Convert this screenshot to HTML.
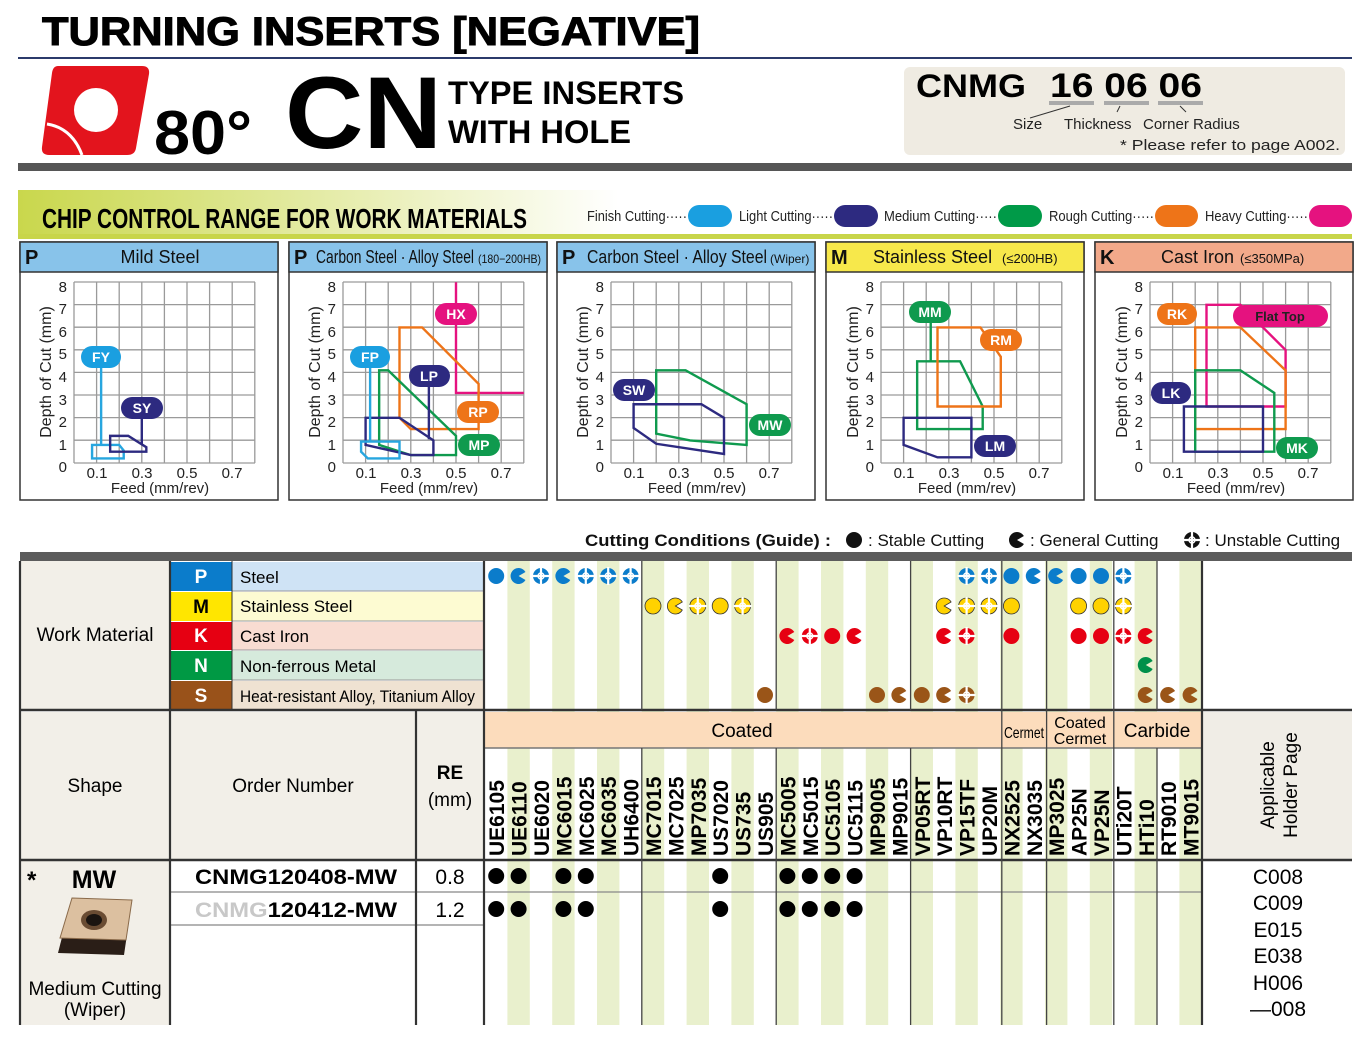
<!DOCTYPE html>
<html><head><meta charset="utf-8"><style>html,body{margin:0;padding:0;background:#fff}svg{display:block}text{font-family:"Liberation Sans",sans-serif}</style></head><body>
<svg width="1366" height="1040" viewBox="0 0 1366 1040" xmlns="http://www.w3.org/2000/svg">
<defs>
<linearGradient id="lg" x1="0" x2="1"><stop offset="0" stop-color="#c9d74c"/><stop offset="0.45" stop-color="#ffffff"/></linearGradient>
<g id="F"><circle r="8"/></g>
<g id="H"><path d="M0,0 L6.9,-4 A8,8 0 1 0 6.9,4 Z"/></g>
<g id="U"><circle r="8"/><path d="M-9,0H9M0,-9V9" stroke="#fff" stroke-width="2.2"/><circle r="3" fill="none" stroke="#fff" stroke-width="1.4"/></g>
<g id="grid" stroke="#9a9a9a" stroke-width="1.3">
<path d="M74,282V463M96.6,282V463M119.2,282V463M141.8,282V463M164.4,282V463M187,282V463M209.6,282V463M232.2,282V463M254.8,282V463"/>
<path d="M74,282H255M74,304.6H255M74,327.2H255M74,349.8H255M74,372.4H255M74,395H255M74,417.6H255M74,440.2H255M74,463H255"/>
</g>
<g id="axes" font-size="15" fill="#222">
<use href="#grid"/>
<g text-anchor="end"><text x="67" y="472">0</text><text x="67" y="450">1</text><text x="67" y="427">2</text><text x="67" y="405">3</text><text x="67" y="382">4</text><text x="67" y="359">5</text><text x="67" y="337">6</text><text x="67" y="314">7</text><text x="67" y="292">8</text></g>
<g text-anchor="middle"><text x="97" y="478">0.1</text><text x="142" y="478">0.3</text><text x="187" y="478">0.5</text><text x="232" y="478">0.7</text><text x="160" y="493">Feed (mm/rev)</text></g>
<text transform="translate(51,372) rotate(-90)" text-anchor="middle" font-size="16">Depth of Cut (mm)</text>
</g>
</defs>
<rect width="1366" height="1040" fill="#fff"/>

<text x="42" y="45" font-size="40" font-weight="bold" textLength="658" lengthAdjust="spacingAndGlyphs" stroke="#000" stroke-width="1">TURNING INSERTS [NEGATIVE]</text>
<rect x="18" y="57" width="1334" height="2" fill="#2b3a6b"/>
<path d="M58,66 H142 Q150,66 149,74 L136,148 Q135,155 127,155 H49 Q41,155 42,147 L52,73 Q53,66 58,66 Z" fill="#e3141d"/>
<circle cx="96" cy="110" r="22" fill="#fff"/>
<path d="M47,124 Q72,128 82,155" fill="none" stroke="#fff" stroke-width="3"/>
<text x="154" y="154" font-size="62" font-weight="bold" textLength="98" lengthAdjust="spacingAndGlyphs">80°</text>
<text x="285" y="148" font-size="102" font-weight="bold" textLength="157" lengthAdjust="spacingAndGlyphs">CN</text>
<text x="448" y="104" font-size="32" font-weight="bold" textLength="236" lengthAdjust="spacingAndGlyphs">TYPE INSERTS</text>
<text x="448" y="143" font-size="32" font-weight="bold" textLength="183" lengthAdjust="spacingAndGlyphs">WITH HOLE</text>
<rect x="18" y="163" width="1334" height="8" fill="#565656"/>
<rect x="904" y="67" width="441" height="88" rx="6" fill="#efebe2"/>
<text x="916" y="97" font-size="32" font-weight="bold" textLength="110" lengthAdjust="spacingAndGlyphs">CNMG</text>
<text x="1050" y="97" font-size="34" font-weight="bold" textLength="152" lengthAdjust="spacingAndGlyphs">16 06 06</text>
<rect x="1049" y="101" width="45" height="4" fill="#aaa"/><rect x="1104" y="101" width="45" height="4" fill="#aaa"/><rect x="1158" y="101" width="45" height="4" fill="#aaa"/>
<path d="M1070,106 L1030,118 M1120,106 L1117,112 M1180,106 L1186,112" stroke="#333" stroke-width="1"/>
<g font-size="15" fill="#222"><text x="1013" y="129">Size</text><text x="1064" y="129">Thickness</text><text x="1143" y="129">Corner Radius</text><text x="1120" y="150" textLength="220" lengthAdjust="spacingAndGlyphs">* Please refer to page A002.</text></g>

<rect x="18" y="190" width="1334" height="46" fill="url(#lg)"/>
<rect x="18" y="234" width="1334" height="5" fill="#c8d54a"/>
<text x="42" y="228" font-size="28" font-weight="bold" textLength="485" lengthAdjust="spacingAndGlyphs">CHIP CONTROL RANGE FOR WORK MATERIALS</text>
<g font-size="15" fill="#222">
<text x="587" y="221" textLength="100" lengthAdjust="spacingAndGlyphs">Finish Cutting·····</text><rect x="688" y="205" width="44" height="22" rx="11" fill="#1a9fe0"/>
<text x="739" y="221" textLength="94" lengthAdjust="spacingAndGlyphs">Light Cutting·····</text><rect x="834" y="205" width="44" height="22" rx="11" fill="#2d2a80"/>
<text x="884" y="221" textLength="113" lengthAdjust="spacingAndGlyphs">Medium Cutting·····</text><rect x="998" y="205" width="44" height="22" rx="11" fill="#009a48"/>
<text x="1049" y="221" textLength="105" lengthAdjust="spacingAndGlyphs">Rough Cutting·····</text><rect x="1155" y="205" width="43" height="22" rx="11" fill="#ee7418"/>
<text x="1205" y="221" textLength="103" lengthAdjust="spacingAndGlyphs">Heavy Cutting·····</text><rect x="1309" y="205" width="43" height="22" rx="11" fill="#e5127f"/>
</g>

<g stroke="#333" stroke-width="1.5" fill="#fff">
<rect x="20" y="242" width="258" height="258"/><rect x="289" y="242" width="258" height="258"/><rect x="557" y="242" width="258" height="258"/><rect x="826" y="242" width="258" height="258"/><rect x="1095" y="242" width="258" height="258"/>
<rect x="20" y="242" width="258" height="30" fill="#88c3ea"/><rect x="289" y="242" width="258" height="30" fill="#88c3ea"/><rect x="557" y="242" width="258" height="30" fill="#88c3ea"/><rect x="826" y="242" width="258" height="30" fill="#f7e84b"/><rect x="1095" y="242" width="258" height="30" fill="#f2a98a"/>
</g>
<g font-size="18" fill="#111">
<text x="25" y="264" font-weight="bold" font-size="20">P</text><text x="160" y="263" text-anchor="middle">Mild Steel</text>
<text x="294" y="264" font-weight="bold" font-size="20">P</text><text x="316" y="263" textLength="158" lengthAdjust="spacingAndGlyphs">Carbon Steel · Alloy Steel</text><text x="478" y="263" font-size="12" textLength="63" lengthAdjust="spacingAndGlyphs">(180−200HB)</text>
<text x="562" y="264" font-weight="bold" font-size="20">P</text><text x="587" y="263" textLength="180" lengthAdjust="spacingAndGlyphs">Carbon Steel · Alloy Steel</text><text x="770" y="263" font-size="12">(Wiper)</text>
<text x="831" y="264" font-weight="bold" font-size="20">M</text><text x="873" y="263">Stainless Steel</text><text x="1002" y="263" font-size="13">(≤200HB)</text>
<text x="1100" y="264" font-weight="bold" font-size="20">K</text><text x="1161" y="263">Cast Iron</text><text x="1240" y="263" font-size="13">(≤350MPa)</text>
</g>
<use href="#axes"/><use href="#axes" x="269"/><use href="#axes" x="537"/><use href="#axes" x="807"/><use href="#axes" x="1076"/>

<g fill="none" stroke-width="2.4" stroke-linejoin="miter">
<g transform="translate(74,463) scale(226,-22.6)">
<polygon points="0.08,0.2 0.08,0.8 0.2,0.8 0.22,0.55 0.22,0.2" stroke="#27a6df" vector-effect="non-scaling-stroke"/>
<polyline points="0.12,4.3 0.12,0.8" stroke="#27a6df" vector-effect="non-scaling-stroke"/>
<polygon points="0.16,0.5 0.16,1.2 0.24,1.2 0.32,0.7 0.32,0.5" stroke="#2d2a80" vector-effect="non-scaling-stroke"/>
<polyline points="0.3,2 0.3,0.85" stroke="#2d2a80" vector-effect="non-scaling-stroke"/>
</g>
<g transform="translate(343,463) scale(226,-22.6)">
<polyline points="0.5,8 0.5,3.1 0.8,3.1" stroke="#e5127f" vector-effect="non-scaling-stroke"/>
<polygon points="0.25,2 0.25,6 0.35,6 0.6,3.5 0.6,1.5 0.3,1.5" stroke="#ee7418" vector-effect="non-scaling-stroke"/>
<polygon points="0.16,0.8 0.16,4.1 0.2,4.1 0.5,1.2 0.5,0.35 0.3,0.35" stroke="#0f9a4e" vector-effect="non-scaling-stroke"/>
<polygon points="0.1,0.8 0.1,2 0.25,2 0.4,1 0.4,0.35 0.3,0.35" stroke="#2d2a80" vector-effect="non-scaling-stroke"/>
<polyline points="0.38,3.6 0.38,1.05" stroke="#2d2a80" vector-effect="non-scaling-stroke"/>
<polygon points="0.08,0.5 0.08,0.95 0.25,0.95 0.25,0.2 0.11,0.2" stroke="#27a6df" vector-effect="non-scaling-stroke"/>
<polyline points="0.12,4.3 0.12,0.95" stroke="#27a6df" vector-effect="non-scaling-stroke"/>
</g>
<g transform="translate(611,463) scale(226,-22.6)">
<polygon points="0.2,1.3 0.2,4.1 0.33,4.1 0.6,2.6 0.6,0.8 0.35,1.0" stroke="#0f9a4e" vector-effect="non-scaling-stroke"/>
<polygon points="0.1,1.55 0.1,2.6 0.4,2.6 0.5,2.0 0.5,0.4 0.2,0.85" stroke="#2d2a80" vector-effect="non-scaling-stroke"/>
</g>
<g transform="translate(881,463) scale(226,-22.6)">
<polygon points="0.16,1.5 0.16,4.5 0.35,4.5 0.45,2.5 0.45,1.5" stroke="#0f9a4e" vector-effect="non-scaling-stroke"/>
<polyline points="0.22,6.6 0.22,4.5" stroke="#0f9a4e" vector-effect="non-scaling-stroke"/>
<polygon points="0.25,2.5 0.25,6 0.44,6 0.53,4.7 0.53,2.5" stroke="#ee7418" vector-effect="non-scaling-stroke"/>
<polygon points="0.1,0.8 0.1,2 0.4,2 0.4,0.25 0.25,0.25" stroke="#2d2a80" vector-effect="non-scaling-stroke"/>
</g>
<g transform="translate(1150,463) scale(226,-22.6)">
<polygon points="0.25,2.5 0.25,7 0.4,7 0.6,5 0.6,2.5" stroke="#e5127f" vector-effect="non-scaling-stroke"/>
<polygon points="0.2,1.5 0.2,6 0.4,6 0.6,4.1 0.6,1.5" stroke="#ee7418" vector-effect="non-scaling-stroke"/>
<polygon points="0.2,0.5 0.2,4.1 0.4,4.1 0.55,3.1 0.55,0.5" stroke="#0f9a4e" vector-effect="non-scaling-stroke"/>
<polygon points="0.15,0.5 0.15,2.5 0.5,2.5 0.5,0.5" stroke="#2d2a80" vector-effect="non-scaling-stroke"/>
</g>
</g>
<g font-size="14" font-weight="bold" fill="#fff" text-anchor="middle">
<rect x="81" y="346" width="40" height="22" rx="11" fill="#1a9fe0"/><text x="101" y="362">FY</text>
<rect x="121" y="397" width="42" height="22" rx="11" fill="#2d2a80"/><text x="142" y="413">SY</text>
<rect x="350" y="346" width="40" height="22" rx="11" fill="#1a9fe0"/><text x="370" y="362">FP</text>
<rect x="409" y="365" width="41" height="22" rx="11" fill="#2d2a80"/><text x="429" y="381">LP</text>
<rect x="435" y="303" width="42" height="22" rx="11" fill="#e5127f"/><text x="456" y="319">HX</text>
<rect x="457" y="401" width="42" height="22" rx="11" fill="#ee7418"/><text x="478" y="417">RP</text>
<rect x="458" y="434" width="42" height="22" rx="11" fill="#0f9a4e"/><text x="479" y="450">MP</text>
<rect x="613" y="379" width="42" height="22" rx="11" fill="#2d2a80"/><text x="634" y="395">SW</text>
<rect x="749" y="414" width="42" height="22" rx="11" fill="#0f9a4e"/><text x="770" y="430">MW</text>
<rect x="909" y="301" width="42" height="22" rx="11" fill="#0f9a4e"/><text x="930" y="317">MM</text>
<rect x="980" y="329" width="42" height="22" rx="11" fill="#ee7418"/><text x="1001" y="345">RM</text>
<rect x="974" y="435" width="42" height="22" rx="11" fill="#2d2a80"/><text x="995" y="451">LM</text>
<rect x="1157" y="303" width="40" height="22" rx="11" fill="#ee7418"/><text x="1177" y="319">RK</text>
<rect x="1233" y="305" width="95" height="22" rx="11" fill="#e5127f"/><text x="1280" y="321" fill="#222" font-size="13">Flat Top</text>
<rect x="1151" y="382" width="40" height="22" rx="11" fill="#2d2a80"/><text x="1171" y="398">LK</text>
<rect x="1276" y="437" width="42" height="22" rx="11" fill="#0f9a4e"/><text x="1297" y="453">MK</text>
</g>

<g font-size="17" fill="#111">
<text x="585" y="546" font-weight="bold" textLength="246" lengthAdjust="spacingAndGlyphs">Cutting Conditions (Guide) :</text>
<use href="#F" x="854" y="540" fill="#111"/><text x="868" y="546">: Stable Cutting</text>
<use href="#H" x="1017" y="540" fill="#111"/><text x="1030" y="546">: General Cutting</text>
<use href="#U" x="1192" y="540" fill="#111"/><text x="1205" y="546">: Unstable Cutting</text>
</g>

<rect x="20" y="552" width="1332" height="9" fill="#5c5c5c"/>
<rect x="20" y="561" width="150" height="149" fill="#f2efe8"/>
<rect x="20" y="712" width="396" height="147" fill="#f2efe8"/>
<rect x="416" y="712" width="69" height="147" fill="#f2efe8"/>
<rect x="20" y="861" width="150" height="164" fill="#f2efe8"/>
<rect x="1202" y="712" width="150" height="147" fill="#f0ede6"/>
<g>
<rect x="170" y="562" width="62" height="29" fill="#0b7ccb"/><rect x="232" y="562" width="251" height="29" fill="#cfe3f5"/>
<rect x="170" y="592" width="62" height="29" fill="#ffe600"/><rect x="232" y="592" width="251" height="29" fill="#fdfbd2"/>
<rect x="170" y="622" width="62" height="28" fill="#e60012"/><rect x="232" y="622" width="251" height="28" fill="#f8dcd2"/>
<rect x="170" y="651" width="62" height="29" fill="#009944"/><rect x="232" y="651" width="251" height="29" fill="#d6eadc"/>
<rect x="170" y="681" width="62" height="29" fill="#99521a"/><rect x="232" y="681" width="251" height="29" fill="#efe2d2"/>
</g>
<g fill="#e9f0cd">
<rect x="507.4" y="561" width="22.4" height="464"/><rect x="552.2" y="561" width="22.4" height="464"/><rect x="597" y="561" width="22.4" height="464"/><rect x="641.8" y="561" width="22.4" height="464"/><rect x="686.6" y="561" width="22.4" height="464"/><rect x="731.4" y="561" width="22.4" height="464"/><rect x="776.2" y="561" width="22.4" height="464"/><rect x="821" y="561" width="22.4" height="464"/><rect x="865.8" y="561" width="22.4" height="464"/><rect x="910.6" y="561" width="22.4" height="464"/><rect x="955.4" y="561" width="22.4" height="464"/><rect x="1000.2" y="561" width="22.4" height="464"/><rect x="1045" y="561" width="22.4" height="464"/><rect x="1089.8" y="561" width="22.4" height="464"/><rect x="1134.6" y="561" width="22.4" height="464"/><rect x="1179.4" y="561" width="22.4" height="464"/>
</g>
<rect x="485" y="712" width="717" height="36" fill="#fcdcbc"/>
<g stroke="#333" fill="none">
<path d="M20,710H1352" stroke-width="2.5"/>
<path d="M20,860H1352" stroke-width="2.5"/>
<path d="M485,748H1202" stroke-width="1.5" stroke="#777"/>
<path d="M170,892H1202M170,925H483" stroke-width="1.2" stroke="#888"/>
<path d="M232,591H483M232,621H483M232,650H483M232,680H483" stroke-width="1" stroke="#999"/>
<path d="M20,561V1025M170,561V1025M416,710V1025M484,561V1025M1202,561V1025" stroke-width="2.2"/>
<path d="M232,561V710" stroke-width="1"/>
<path d="M641.8,561V710M776.2,561V710M910.6,561V710M641.8,748V1025M776.2,748V1025M910.6,748V1025M1001.8,561V1025M1046.6,561V1025M1113.8,561V1025M1157,561V710M1157,748V1025" stroke-width="1.3" stroke="#444"/>
</g>
<text x="95" y="641" font-size="19" text-anchor="middle">Work Material</text>
<g font-size="19" font-weight="bold" text-anchor="middle"><text x="201" y="583" fill="#fff">P</text><text x="201" y="613">M</text><text x="201" y="642" fill="#fff">K</text><text x="201" y="672" fill="#fff">N</text><text x="201" y="702" fill="#fff">S</text></g>
<g font-size="17"><text x="240" y="583">Steel</text><text x="240" y="612">Stainless Steel</text><text x="240" y="642">Cast Iron</text><text x="240" y="672">Non-ferrous Metal</text><text x="240" y="702" textLength="235" lengthAdjust="spacingAndGlyphs">Heat-resistant Alloy, Titanium Alloy</text></g>

<g font-size="19" text-anchor="middle">
<text x="95" y="792">Shape</text><text x="293" y="792">Order Number</text>
<text x="450" y="779" font-weight="bold">RE</text><text x="450" y="806">(mm)</text>
<text x="742" y="737">Coated</text><text x="1157" y="737">Carbide</text>
</g>
<text x="1004" y="738" font-size="16" textLength="40" lengthAdjust="spacingAndGlyphs">Cermet</text>
<text x="1080" y="728" font-size="16" text-anchor="middle">Coated</text><text x="1080" y="744" font-size="16" text-anchor="middle">Cermet</text>
<text transform="translate(1274,785) rotate(-90)" font-size="19" text-anchor="middle">Applicable</text>
<text transform="translate(1297,785) rotate(-90)" font-size="19" text-anchor="middle">Holder Page</text>
<g font-size="21" font-weight="bold">
<text transform="translate(504.2,856) rotate(-90)">UE6105</text><text transform="translate(526.6,856) rotate(-90)">UE6110</text><text transform="translate(549,856) rotate(-90)">UE6020</text><text transform="translate(571.4,856) rotate(-90)">MC6015</text><text transform="translate(593.8,856) rotate(-90)">MC6025</text><text transform="translate(616.2,856) rotate(-90)">MC6035</text><text transform="translate(638.6,856) rotate(-90)">UH6400</text><text transform="translate(661,856) rotate(-90)">MC7015</text><text transform="translate(683.4,856) rotate(-90)">MC7025</text><text transform="translate(705.8,856) rotate(-90)">MP7035</text><text transform="translate(728.2,856) rotate(-90)">US7020</text><text transform="translate(750.6,856) rotate(-90)">US735</text><text transform="translate(773,856) rotate(-90)">US905</text><text transform="translate(795.4,856) rotate(-90)">MC5005</text><text transform="translate(817.8,856) rotate(-90)">MC5015</text><text transform="translate(840.2,856) rotate(-90)">UC5105</text><text transform="translate(862.6,856) rotate(-90)">UC5115</text><text transform="translate(885,856) rotate(-90)">MP9005</text><text transform="translate(907.4,856) rotate(-90)">MP9015</text><text transform="translate(929.8,856) rotate(-90)">VP05RT</text><text transform="translate(952.2,856) rotate(-90)">VP10RT</text><text transform="translate(974.6,856) rotate(-90)">VP15TF</text><text transform="translate(997,856) rotate(-90)">UP20M</text><text transform="translate(1019.4,856) rotate(-90)">NX2525</text><text transform="translate(1041.8,856) rotate(-90)">NX3035</text><text transform="translate(1064.2,856) rotate(-90)">MP3025</text><text transform="translate(1086.6,856) rotate(-90)">AP25N</text><text transform="translate(1109,856) rotate(-90)">VP25N</text><text transform="translate(1131.4,856) rotate(-90)">UTi20T</text><text transform="translate(1153.8,856) rotate(-90)">HTi10</text><text transform="translate(1176.2,856) rotate(-90)">RT9010</text><text transform="translate(1198.6,856) rotate(-90)">MT9015</text>
</g>

<g fill="#0b7ccb">
<use href="#F" x="496.2" y="576"/><use href="#H" x="518.6" y="576"/><use href="#U" x="541" y="576"/><use href="#H" x="563.4" y="576"/><use href="#U" x="585.8" y="576"/><use href="#U" x="608.2" y="576"/><use href="#U" x="630.6" y="576"/><use href="#U" x="966.6" y="576"/><use href="#U" x="989" y="576"/><use href="#F" x="1011.4" y="576"/><use href="#H" x="1033.8" y="576"/><use href="#H" x="1056.2" y="576"/><use href="#F" x="1078.6" y="576"/><use href="#F" x="1101" y="576"/><use href="#U" x="1123.4" y="576"/>
</g>
<g fill="#ffd200" stroke="#333" stroke-width="0.8">
<use href="#F" x="653" y="606"/><use href="#H" x="675.4" y="606"/><use href="#U" x="697.8" y="606"/><use href="#F" x="720.2" y="606"/><use href="#U" x="742.6" y="606"/><use href="#H" x="944.2" y="606"/><use href="#U" x="966.6" y="606"/><use href="#U" x="989" y="606"/><use href="#F" x="1011.4" y="606"/><use href="#F" x="1078.6" y="606"/><use href="#F" x="1101" y="606"/><use href="#U" x="1123.4" y="606"/>
</g>
<g fill="#e60012">
<use href="#H" x="787.4" y="636"/><use href="#U" x="809.8" y="636"/><use href="#F" x="832.2" y="636"/><use href="#H" x="854.6" y="636"/><use href="#H" x="944.2" y="636"/><use href="#U" x="966.6" y="636"/><use href="#F" x="1011.4" y="636"/><use href="#F" x="1078.6" y="636"/><use href="#F" x="1101" y="636"/><use href="#U" x="1123.4" y="636"/><use href="#H" x="1145.8" y="636"/>
</g>
<g fill="#00904a"><use href="#H" x="1145.8" y="665"/></g>
<g fill="#9a5518">
<use href="#F" x="765" y="695"/><use href="#F" x="877" y="695"/><use href="#H" x="899.4" y="695"/><use href="#F" x="921.8" y="695"/><use href="#H" x="944.2" y="695"/><use href="#U" x="966.6" y="695"/><use href="#H" x="1145.8" y="695"/><use href="#H" x="1168.2" y="695"/><use href="#H" x="1190.6" y="695"/>
</g>
<g fill="#000">
<use href="#F" x="496.2" y="876"/><use href="#F" x="518.6" y="876"/><use href="#F" x="563.4" y="876"/><use href="#F" x="585.8" y="876"/><use href="#F" x="720.2" y="876"/><use href="#F" x="787.4" y="876"/><use href="#F" x="809.8" y="876"/><use href="#F" x="832.2" y="876"/><use href="#F" x="854.6" y="876"/>
<use href="#F" x="496.2" y="909"/><use href="#F" x="518.6" y="909"/><use href="#F" x="563.4" y="909"/><use href="#F" x="585.8" y="909"/><use href="#F" x="720.2" y="909"/><use href="#F" x="787.4" y="909"/><use href="#F" x="809.8" y="909"/><use href="#F" x="832.2" y="909"/><use href="#F" x="854.6" y="909"/>
</g>

<text x="27" y="888" font-size="24" font-weight="bold">*</text>
<text x="94" y="888" font-size="25" font-weight="bold" text-anchor="middle">MW</text>
<path d="M72,898 L132,900 L124,955 L58,953 Z" fill="#2a1e17"/>
<path d="M72,898 L132,900 L126,940 L60,938 Z" fill="#dcc0a0" stroke="#8a6a4a" stroke-width="1"/>
<ellipse cx="94" cy="920" rx="13" ry="10" fill="#6a4c33"/><ellipse cx="94" cy="920" rx="8" ry="6" fill="#1a1410"/>
<text x="95" y="995" font-size="19" text-anchor="middle">Medium Cutting</text>
<text x="95" y="1016" font-size="19" text-anchor="middle">(Wiper)</text>
<g font-size="21" font-weight="bold">
<text x="195" y="884" textLength="202" lengthAdjust="spacingAndGlyphs">CNMG120408-MW</text>
<text x="195" y="917" textLength="202" lengthAdjust="spacingAndGlyphs"><tspan fill="#c8c8c8">CNMG</tspan>120412-MW</text>
</g>
<g font-size="21" text-anchor="middle"><text x="450" y="884">0.8</text><text x="450" y="917">1.2</text></g>
<g font-size="21" text-anchor="middle">
<text x="1278" y="884">C008</text><text x="1278" y="910">C009</text><text x="1278" y="937">E015</text><text x="1278" y="963">E038</text><text x="1278" y="990">H006</text><text x="1278" y="1016">—008</text>
</g>
</svg>
</body></html>
